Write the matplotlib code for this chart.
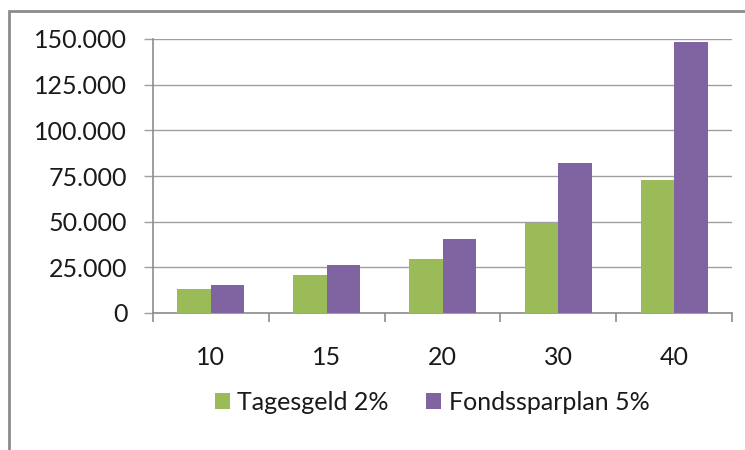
import numpy as np
import matplotlib
matplotlib.use("Agg")
import matplotlib.pyplot as plt
from matplotlib.ticker import FuncFormatter, FixedLocator
from matplotlib.patches import Rectangle

plt.rcParams["font.family"] = ["Lato", "DejaVu Sans"]

jahre = ["10", "15", "20", "30", "40"]
tagesgeld = [13300, 21000, 29500, 49000, 73000]
fondssparplan = [15500, 26500, 40500, 82000, 148500]
series_names = ["Tagesgeld 2%", "Fondssparplan 5%"]
y_ticks = [0, 25000, 50000, 75000, 100000, 125000, 150000]

green = "#9BBB59"
purple = "#8064A2"
grey = "#8c8c8c"
txt = "#1a1a1a"

fig = plt.figure(figsize=(7.45, 4.5), dpi=100)
ax = fig.add_axes([153/745, 1 - 313/450, 579/745, 274/450])

x = np.arange(len(jahre))
w = 0.29
ax.bar(x - w/2, tagesgeld, width=w, color=green, label=series_names[0], zorder=3)
ax.bar(x + w/2, fondssparplan, width=w, color=purple, label=series_names[1], zorder=3)

ax.set_xlim(-0.5, len(jahre) - 0.5)
ax.set_ylim(0, 150000)
ax.set_yticks(y_ticks)
ax.yaxis.set_major_formatter(FuncFormatter(lambda v, p: f"{int(v):,}".replace(",", ".")))
ax.grid(axis="y", color="#a0a0a0", linewidth=1.0, zorder=0)

# category labels sit between the boundary ticks
ax.xaxis.set_major_locator(FixedLocator(np.arange(len(jahre) + 1) - 0.5))
ax.xaxis.set_minor_locator(FixedLocator(x))
ax.set_xticklabels([])
ax.set_xticklabels(jahre, minor=True)
ax.tick_params(axis="x", which="major", length=6.5, width=1.2, color=grey, direction="out")
ax.tick_params(axis="x", which="minor", length=0, labelsize=18, pad=24, colors=txt)
ax.tick_params(axis="y", length=6.5, width=1.0, color="#a0a0a0", labelsize=18, pad=12, colors=txt)

for s in ["top", "right"]:
    ax.spines[s].set_visible(False)
for s in ["left", "bottom"]:
    ax.spines[s].set_color(grey)
    ax.spines[s].set_linewidth(1.2)

fig.legend(loc="center left", bbox_to_anchor=(0.258, 1 - 402/450), ncol=2, frameon=False,
           fontsize=18, handlelength=0.6, handleheight=0.6, handletextpad=0.3,
           columnspacing=1.5, labelcolor=txt)

# outer chart border
fig.patches.append(Rectangle((8.7/745, -0.05), 1.2, 1.05 - 11/450, transform=fig.transFigure,
                             fill=False, edgecolor=grey, linewidth=2.0))

fig.savefig("out.png", dpi=100)
